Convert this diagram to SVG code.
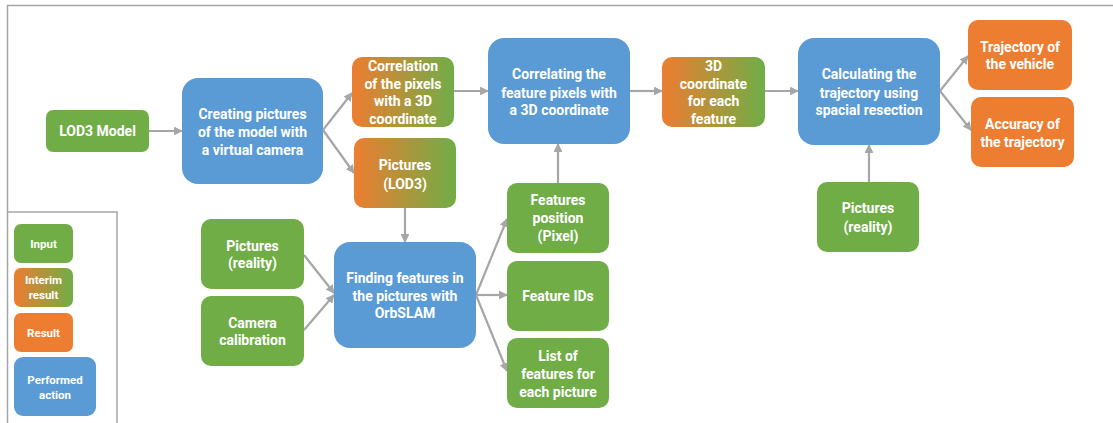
<svg xmlns="http://www.w3.org/2000/svg" width="1113" height="423" viewBox="0 0 1113 423">
  <defs>
    <linearGradient id="interim" x1="0" y1="0" x2="1" y2="0">
      <stop offset="0" stop-color="#ed7d31"/>
      <stop offset="1" stop-color="#70ad47"/>
    </linearGradient>
    <marker id="arrow" viewBox="0 0 10 10" refX="9" refY="5" markerWidth="4" markerHeight="4" orient="auto" markerUnits="strokeWidth">
      <path d="M0,0 L10,5 L0,10 z" fill="#a6a6a6"/>
    </marker>
  </defs>
  <style>
    .frame { fill: none; stroke: #a6a6a6; stroke-width: 1.5; }
    .input { fill: #70ad47; }
    .interim { fill: url(#interim); }
    .result { fill: #ed7d31; }
    .action { fill: #5b9bd5; }
    text { font-family: Roboto, "Open Sans", "Liberation Sans", sans-serif; font-weight: bold; fill: #ffffff; text-anchor: middle; font-size: 14px; }
    .legend text { font-size: 11.5px; }
    .edge { fill: none; stroke: #a6a6a6; stroke-width: 2.2; marker-end: url(#arrow); }
  </style>

  <rect width="1113" height="423" fill="#ffffff"/>

  <!-- outer frame and legend border -->
  <path class="frame" d="M1113,5.5 H7.5 V423"/>
  <path class="frame" d="M7.5,212 H117 V423"/>

  <!-- legend -->
  <g id="legend" class="legend">
    <rect class="input" x="14" y="224" width="59" height="39" rx="7"/>
    <text x="43.5" y="248">Input</text>
    <rect class="interim" x="14" y="268" width="59" height="39" rx="7"/>
    <text x="43.5" y="284">Interim</text>
    <text x="43.5" y="299">result</text>
    <rect class="result" x="14" y="313" width="59" height="39" rx="7"/>
    <text x="43.5" y="336.5">Result</text>
    <rect class="action" x="14" y="357" width="82" height="59" rx="9"/>
    <text x="55" y="384">Performed</text>
    <text x="55" y="399">action</text>
  </g>

  <!-- connectors -->
  <g id="connectors">
    <line class="edge" x1="149" y1="131" x2="182" y2="131"/>
    <line class="edge" x1="323" y1="130" x2="352" y2="93"/>
    <line class="edge" x1="323" y1="130" x2="354" y2="173"/>
    <line class="edge" x1="454" y1="91" x2="488" y2="91"/>
    <line class="edge" x1="405" y1="208" x2="405" y2="242"/>
    <line class="edge" x1="304" y1="255" x2="334" y2="293"/>
    <line class="edge" x1="304" y1="330" x2="334" y2="295"/>
    <line class="edge" x1="476" y1="295" x2="507" y2="219"/>
    <line class="edge" x1="476" y1="295" x2="507" y2="295"/>
    <line class="edge" x1="476" y1="295" x2="507" y2="371"/>
    <line class="edge" x1="558" y1="183" x2="558" y2="144"/>
    <line class="edge" x1="630" y1="91" x2="662" y2="91"/>
    <line class="edge" x1="765" y1="91" x2="798" y2="91"/>
    <line class="edge" x1="940" y1="91" x2="968" y2="56"/>
    <line class="edge" x1="940" y1="91" x2="971" y2="130"/>
    <line class="edge" x1="869" y1="182" x2="869" y2="145"/>
  </g>

  <g id="lod3-model">
    <rect class="input" x="46" y="110" width="103" height="42" rx="7"/>
    <text x="97.5" y="136">LOD3 Model</text>
  </g>

  <g id="creating-pictures">
    <rect class="action" x="182" y="78" width="141" height="106" rx="16"/>
    <text x="252.5" y="118.5">Creating pictures</text>
    <text x="252.5" y="136.5">of the model with</text>
    <text x="252.5" y="154.5">a virtual camera</text>
  </g>

  <g id="pixel-correlation">
    <rect class="interim" x="352" y="57" width="102" height="70" rx="10"/>
    <text x="403" y="70.5">Correlation</text>
    <text x="403" y="88.5">of the pixels</text>
    <text x="403" y="106">with a 3D</text>
    <text x="403" y="123.5">coordinate</text>
  </g>

  <g id="pictures-lod3">
    <rect class="interim" x="354" y="138" width="102" height="70" rx="10"/>
    <text x="405" y="170">Pictures</text>
    <text x="405" y="188.5">(LOD3)</text>
  </g>

  <g id="feature-correlation">
    <rect class="action" x="488" y="38" width="142" height="106" rx="16"/>
    <text x="559" y="79">Correlating the</text>
    <text x="559" y="97.5">feature pixels with</text>
    <text x="559" y="115">a 3D coordinate</text>
  </g>

  <g id="feature-coordinates">
    <rect class="interim" x="662" y="57" width="103" height="70" rx="10"/>
    <text x="713.5" y="70.5">3D</text>
    <text x="713.5" y="88.5">coordinate</text>
    <text x="713.5" y="106">for each</text>
    <text x="713.5" y="123.5">feature</text>
  </g>

  <g id="trajectory-calculation">
    <rect class="action" x="798" y="38" width="142" height="107" rx="16"/>
    <text x="869" y="79">Calculating the</text>
    <text x="869" y="97.5">trajectory using</text>
    <text x="869" y="115">spacial resection</text>
  </g>

  <g id="vehicle-trajectory">
    <rect class="result" x="968" y="20" width="104" height="70" rx="10"/>
    <text x="1020" y="51.5">Trajectory of</text>
    <text x="1020" y="69">the vehicle</text>
  </g>

  <g id="trajectory-accuracy">
    <rect class="result" x="971" y="97" width="103" height="70" rx="10"/>
    <text x="1022.5" y="129">Accuracy of</text>
    <text x="1022.5" y="146.5">the trajectory</text>
  </g>

  <g id="pictures-reality-right">
    <rect class="input" x="817" y="182" width="102" height="70" rx="10"/>
    <text x="868" y="213">Pictures</text>
    <text x="868" y="231.5">(reality)</text>
  </g>

  <g id="pictures-reality-left">
    <rect class="input" x="201" y="219" width="103" height="70" rx="10"/>
    <text x="252.5" y="250.5">Pictures</text>
    <text x="252.5" y="268">(reality)</text>
  </g>

  <g id="camera-calibration">
    <rect class="input" x="201" y="296" width="103" height="70" rx="10"/>
    <text x="252.5" y="327.5">Camera</text>
    <text x="252.5" y="345">calibration</text>
  </g>

  <g id="feature-finding">
    <rect class="action" x="334" y="242" width="142" height="106" rx="16"/>
    <text x="405" y="283">Finding features in</text>
    <text x="405" y="300.5">the pictures with</text>
    <text x="405" y="318">OrbSLAM</text>
  </g>

  <g id="features-position">
    <rect class="input" x="507" y="183" width="102" height="70" rx="10"/>
    <text x="558" y="205">Features</text>
    <text x="558" y="223">position</text>
    <text x="558" y="241">(Pixel)</text>
  </g>

  <g id="feature-ids">
    <rect class="input" x="507" y="261" width="102" height="70" rx="10"/>
    <text x="558" y="301">Feature IDs</text>
  </g>

  <g id="feature-lists">
    <rect class="input" x="507" y="338" width="102" height="70" rx="10"/>
    <text x="558" y="361">List of</text>
    <text x="558" y="379">features for</text>
    <text x="558" y="396.5">each picture</text>
  </g>
</svg>
